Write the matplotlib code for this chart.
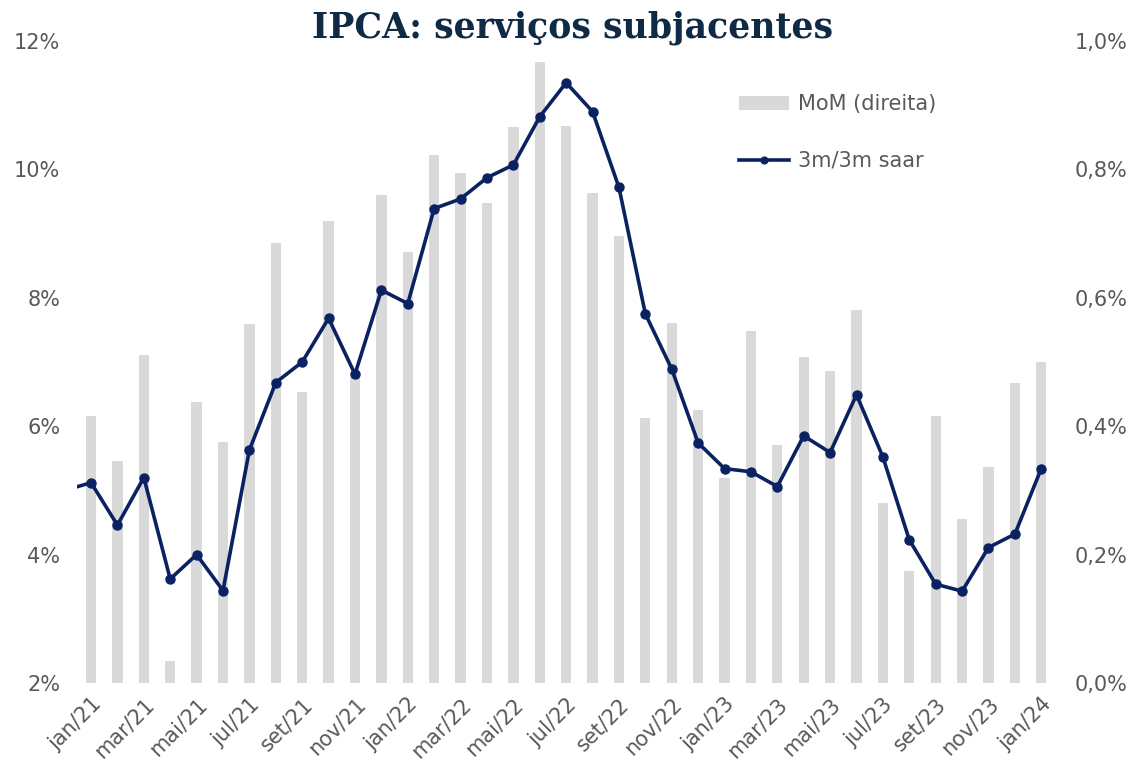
import matplotlib
matplotlib.use("Agg")
import matplotlib.pyplot as plt
import numpy as np

# months shown on the axis (jan/21 .. jan/24)
meses = ["jan", "fev", "mar", "abr", "mai", "jun", "jul", "ago", "set", "out", "nov", "dez"]
labels = [f"{meses[m]}/{a}" for a in (21, 22, 23) for m in range(12)] + ["jan/24"]

# MoM (right axis, %) jan/21 .. jan/24
mom = [0.416, 0.346, 0.511, 0.034, 0.437, 0.375, 0.559, 0.685, 0.453, 0.719, 0.477, 0.760,
       0.671, 0.822, 0.795, 0.747, 0.866, 0.967, 0.868, 0.763, 0.696, 0.413, 0.560, 0.426,
       0.319, 0.548, 0.370, 0.508, 0.486, 0.581, 0.280, 0.174, 0.416, 0.255, 0.336, 0.468,
       0.500]

# 3m/3m saar (left axis, %) dez/20 .. jan/24
saar = [5.00,
        5.12, 4.46, 5.20, 3.62, 4.00, 3.44, 5.63, 6.68, 7.00, 7.68, 6.81, 8.12,
        7.91, 9.39, 9.54, 9.87, 10.07, 10.82, 11.35, 10.90, 9.72, 7.75, 6.89, 5.74,
        5.34, 5.29, 5.06, 5.85, 5.59, 6.49, 5.52, 4.23, 3.54, 3.43, 4.11, 4.32,
        5.34]

navy = "#0B2262"
grey_txt = "#595959"
bar_col = "#D9D9D9"

fig = plt.figure(figsize=(11.38, 7.73), dpi=100)
ax = fig.add_axes([0.0677, 0.1164, 0.8596, 0.8306])
axb = ax.twinx()

x_bar = np.arange(len(mom))
x_line = np.arange(len(saar)) - 1

bars = axb.bar(x_bar, mom, width=0.39, color=bar_col, label="MoM (direita)")
line, = ax.plot(x_line, saar, color=navy, lw=2.6, marker="o", ms=6.5,
                label="3m/3m saar")

ax.set_zorder(axb.get_zorder() + 1)
ax.patch.set_visible(False)

ax.set_xlim(-0.53, 36.53)
ax.set_ylim(2, 12)
axb.set_ylim(0, 1.0)

ax.set_yticks(np.arange(2, 13, 2))
ax.set_yticklabels([f"{v}%" for v in range(2, 13, 2)])
axb.set_yticks(np.arange(0, 1.01, 0.2))
axb.set_yticklabels([f"{v:.1f}%".replace(".", ",") for v in np.arange(0, 1.01, 0.2)])

ax.set_xticks(np.arange(0, 37, 2))
ax.set_xticklabels(labels[::2], rotation=45, ha="right", va="top",
                   rotation_mode="anchor")

for a in (ax, axb):
    for s in a.spines.values():
        s.set_visible(False)
    a.tick_params(length=0, colors=grey_txt, labelsize=15)
ax.tick_params(axis="y", pad=12)
axb.tick_params(axis="y", pad=14)
ax.tick_params(axis="x", pad=8)

fig.text(0.503, 0.964, "IPCA: serviços subjacentes", ha="center", va="center",
         fontsize=25, fontweight="bold", family="DejaVu Serif", color="#0F2A44")

leg = ax.legend([bars, line], ["MoM (direita)", "3m/3m saar"],
                loc="upper left", bbox_to_anchor=(0.658, 0.946), frameon=False,
                fontsize=15, labelcolor=grey_txt, handlelength=2.4,
                handletextpad=0.4, labelspacing=1.75, markerscale=0.75)

fig.savefig("out.png", dpi=100)
